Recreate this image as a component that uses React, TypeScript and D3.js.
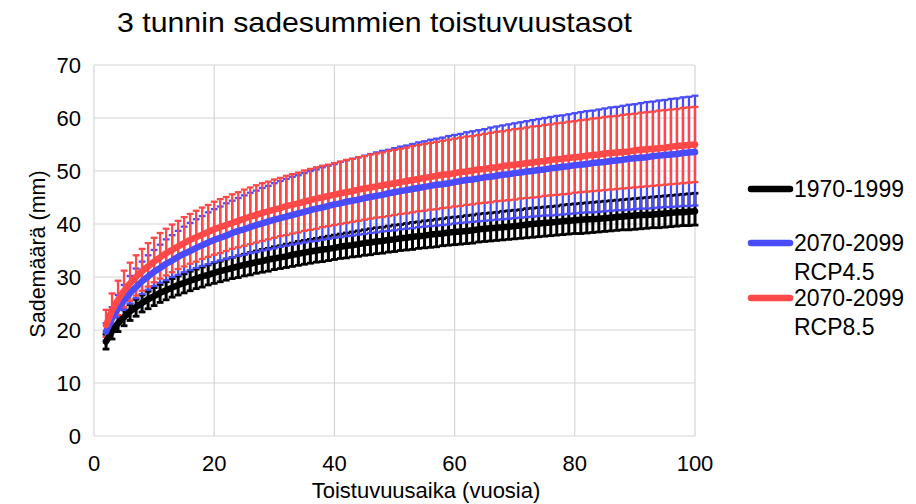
import React from "react";
import * as d3 from "d3";

// Return periods (years)
const returnPeriods: number[] = d3.range(2, 101);

// 1970-1999
const blackMean = [
  17.8,19.8,21.3,22.4,23.5,24.3,25.1,25.8,26.4,27.0,27.5,28.0,28.5,28.9,29.3,29.7,30.1,30.4,30.8,31.1,
  31.4,31.7,32.0,32.3,32.5,32.8,33.0,33.3,33.5,33.7,33.9,34.2,34.4,34.6,34.8,35.0,35.2,35.3,35.5,35.7,
  35.9,36.0,36.2,36.4,36.5,36.7,36.8,37.0,37.1,37.3,37.4,37.6,37.7,37.8,38.0,38.1,38.2,38.4,38.5,38.6,
  38.7,38.8,39.0,39.1,39.2,39.3,39.4,39.5,39.6,39.7,39.9,40.0,40.1,40.2,40.3,40.4,40.5,40.6,40.7,40.8,
  40.9,40.9,41.0,41.1,41.2,41.3,41.4,41.5,41.6,41.7,41.7,41.8,41.9,42.0,42.1,42.2,42.2,42.3,42.4,
];
const blackUpper = [
  19.2,21.1,22.6,23.8,24.8,25.8,26.6,27.3,28.0,28.6,29.1,29.7,30.2,30.6,31.1,31.5,31.9,32.3,32.7,33.0,
  33.4,33.7,34.0,34.3,34.6,34.9,35.2,35.4,35.7,35.9,36.2,36.4,36.7,36.9,37.1,37.3,37.5,37.7,37.9,38.1,
  38.3,38.5,38.7,38.9,39.1,39.3,39.4,39.6,39.8,39.9,40.1,40.3,40.4,40.6,40.7,40.9,41.0,41.2,41.3,41.4,
  41.6,41.7,41.9,42.0,42.1,42.2,42.4,42.5,42.6,42.7,42.9,43.0,43.1,43.2,43.3,43.4,43.6,43.7,43.8,43.9,
  44.0,44.1,44.2,44.3,44.4,44.5,44.6,44.7,44.8,44.9,45.0,45.1,45.2,45.3,45.4,45.5,45.6,45.7,45.8,
];
const blackLower = [
  16.4,18.3,19.7,20.8,21.8,22.6,23.4,24.0,24.6,25.2,25.7,26.2,26.6,27.0,27.4,27.8,28.1,28.5,28.8,29.1,
  29.4,29.7,29.9,30.2,30.4,30.7,30.9,31.1,31.4,31.6,31.8,32.0,32.2,32.4,32.6,32.8,32.9,33.1,33.3,33.5,
  33.6,33.8,33.9,34.1,34.2,34.4,34.5,34.7,34.8,35.0,35.1,35.2,35.4,35.5,35.6,35.7,35.9,36.0,36.1,36.2,
  36.3,36.4,36.6,36.7,36.8,36.9,37.0,37.1,37.2,37.3,37.4,37.5,37.6,37.7,37.8,37.9,38.0,38.1,38.2,38.2,
  38.3,38.4,38.5,38.6,38.7,38.8,38.9,38.9,39.0,39.1,39.2,39.3,39.3,39.4,39.5,39.6,39.7,39.7,39.8,
];

// 2070-2099 RCP4.5
const blueMean = [
  19.7,22.2,24.1,25.6,27.0,28.1,29.2,30.1,31.0,31.7,32.5,33.1,33.8,34.4,34.9,35.5,36.0,36.5,37.0,37.4,
  37.8,38.3,38.7,39.0,39.4,39.8,40.1,40.5,40.8,41.1,41.4,41.7,42.0,42.3,42.6,42.9,43.1,43.4,43.7,43.9,
  44.2,44.4,44.6,44.9,45.1,45.3,45.5,45.8,46.0,46.2,46.4,46.6,46.8,47.0,47.2,47.4,47.5,47.7,47.9,48.1,
  48.3,48.4,48.6,48.8,48.9,49.1,49.3,49.4,49.6,49.7,49.9,50.0,50.2,50.3,50.5,50.6,50.8,50.9,51.1,51.2,
  51.3,51.5,51.6,51.7,51.9,52.0,52.1,52.3,52.4,52.5,52.6,52.8,52.9,53.0,53.1,53.2,53.4,53.5,53.6,
];
const blueUpper = [
  21.3,24.3,26.6,28.5,30.2,31.6,32.9,34.1,35.1,36.1,37.1,37.9,38.7,39.5,40.2,40.9,41.5,42.2,42.8,43.3,
  43.9,44.4,44.9,45.4,45.9,46.3,46.8,47.2,47.7,48.1,48.5,48.9,49.2,49.6,50.0,50.3,50.7,51.0,51.3,51.7,
  52.0,52.3,52.6,52.9,53.2,53.5,53.8,54.0,54.3,54.6,54.8,55.1,55.4,55.6,55.9,56.1,56.3,56.6,56.8,57.0,
  57.3,57.5,57.7,57.9,58.2,58.4,58.6,58.8,59.0,59.2,59.4,59.6,59.8,60.0,60.2,60.4,60.5,60.7,60.9,61.1,
  61.3,61.4,61.6,61.8,62.0,62.1,62.3,62.5,62.6,62.8,63.0,63.1,63.3,63.4,63.6,63.7,63.9,64.0,64.2,
];
const blueLower = [
  18.0,20.6,22.4,23.8,25.0,26.0,26.8,27.6,28.3,28.9,29.4,30.0,30.4,30.9,31.3,31.7,32.1,32.4,32.8,33.1,
  33.4,33.7,34.0,34.2,34.5,34.7,35.0,35.2,35.4,35.7,35.9,36.1,36.3,36.5,36.7,36.8,37.0,37.2,37.4,37.5,
  37.7,37.8,38.0,38.1,38.3,38.4,38.6,38.7,38.8,39.0,39.1,39.2,39.4,39.5,39.6,39.7,39.8,39.9,40.1,40.2,
  40.3,40.4,40.5,40.6,40.7,40.8,40.9,41.0,41.1,41.2,41.3,41.4,41.5,41.6,41.6,41.7,41.8,41.9,42.0,42.1,
  42.2,42.2,42.3,42.4,42.5,42.6,42.6,42.7,42.8,42.9,42.9,43.0,43.1,43.2,43.2,43.3,43.4,43.4,43.5,
];

// 2070-2099 RCP8.5
const redMean = [
  20.9,23.7,25.7,27.4,28.8,30.0,31.1,32.0,32.9,33.7,34.5,35.1,35.8,36.4,37.0,37.5,38.0,38.5,39.0,39.4,
  39.8,40.2,40.6,41.0,41.4,41.7,42.1,42.4,42.7,43.0,43.4,43.6,43.9,44.2,44.5,44.8,45.0,45.3,45.5,45.8,
  46.0,46.2,46.5,46.7,46.9,47.1,47.3,47.5,47.7,47.9,48.1,48.3,48.5,48.7,48.9,49.1,49.3,49.4,49.6,49.8,
  49.9,50.1,50.3,50.4,50.6,50.7,50.9,51.1,51.2,51.3,51.5,51.6,51.8,51.9,52.1,52.2,52.3,52.5,52.6,52.7,
  52.9,53.0,53.1,53.3,53.4,53.5,53.6,53.7,53.9,54.0,54.1,54.2,54.3,54.4,54.6,54.7,54.8,54.9,55.0,
];
const redUpper = [
  23.8,26.9,29.3,31.2,32.7,34.1,35.3,36.4,37.4,38.3,39.1,39.9,40.6,41.3,41.9,42.5,43.1,43.6,44.2,44.7,
  45.1,45.6,46.0,46.5,46.9,47.3,47.7,48.0,48.4,48.7,49.1,49.4,49.7,50.1,50.4,50.7,51.0,51.2,51.5,51.8,
  52.1,52.3,52.6,52.8,53.1,53.3,53.5,53.8,54.0,54.2,54.4,54.7,54.9,55.1,55.3,55.5,55.7,55.9,56.1,56.3,
  56.5,56.6,56.8,57.0,57.2,57.4,57.5,57.7,57.9,58.0,58.2,58.4,58.5,58.7,58.8,59.0,59.1,59.3,59.4,59.6,
  59.7,59.9,60.0,60.2,60.3,60.4,60.6,60.7,60.8,61.0,61.1,61.2,61.4,61.5,61.6,61.7,61.9,62.0,62.1,
];
const redLower = [
  18.7,21.1,22.8,24.3,25.5,26.5,27.4,28.2,29.0,29.7,30.3,30.9,31.5,32.0,32.5,32.9,33.4,33.8,34.2,34.5,
  34.9,35.3,35.6,35.9,36.2,36.5,36.8,37.1,37.4,37.7,37.9,38.2,38.4,38.7,38.9,39.1,39.4,39.6,39.8,40.0,
  40.2,40.4,40.6,40.8,41.0,41.2,41.3,41.5,41.7,41.9,42.0,42.2,42.4,42.5,42.7,42.8,43.0,43.1,43.3,43.4,
  43.6,43.7,43.9,44.0,44.1,44.3,44.4,44.5,44.6,44.8,44.9,45.0,45.1,45.3,45.4,45.5,45.6,45.7,45.9,46.0,
  46.1,46.2,46.3,46.4,46.5,46.6,46.7,46.8,46.9,47.0,47.1,47.2,47.3,47.4,47.5,47.6,47.7,47.8,47.9,
];

const yTicks = [0, 10, 20, 30, 40, 50, 60, 70];
const xTicks = [0, 20, 40, 60, 80, 100];
const seriesNames = ["1970-1999", "2070-2099|RCP4.5", "2070-2099|RCP8.5"];

const title = "3 tunnin sadesummien toistuvuustasot";
const xTitle = "Toistuvuusaika (vuosia)";
const yTitle = "Sademäärä (mm)";

const FONT = "'Liberation Sans', Arial, sans-serif";
const COLORS = ["#000000", "#4a4aff", "#ff4848"];

export default function App() {
  const x = d3.scaleLinear().domain([0, 100]).range([94, 695]);
  const y = d3.scaleLinear().domain([0, 70]).range([436, 65]);

  const series = [
    { mean: blackMean, lo: blackLower, hi: blackUpper, bw: 3, cw: 2.8 },
    { mean: blueMean, lo: blueLower, hi: blueUpper, bw: 2.3, cw: 2.3 },
    { mean: redMean, lo: redLower, hi: redUpper, bw: 2.3, cw: 2.3 },
  ];

  const line = d3
    .line<number>()
    .x((_, i) => x(returnPeriods[i]))
    .y((d) => y(d));

  const capHalf = 3.4;
  const grid = "#d6d6d6";

  return (
    <svg
      width={916}
      height={504}
      style={{ position: "absolute", left: 0, top: 0, background: "#fff" }}
    >
      <text x={117} y={32} fontFamily={FONT} fontSize={28} textLength={515} lengthAdjust="spacingAndGlyphs" fill="#000">
        {title}
      </text>

      {/* grid */}
      {yTicks.map((t) => (
        <line key={"gy" + t} x1={x(0)} x2={x(100)} y1={y(t)} y2={y(t)} stroke={grid} strokeWidth={1.2} />
      ))}
      {xTicks.map((t) => (
        <line key={"gx" + t} x1={x(t)} x2={x(t)} y1={y(0)} y2={y(70)} stroke={grid} strokeWidth={1.2} />
      ))}

      {/* tick labels */}
      {yTicks.map((t) => (
        <text key={"ty" + t} x={81} y={y(t)} dy="0.36em" textAnchor="end" fontFamily={FONT} fontSize={22} fill="#000">
          {t}
        </text>
      ))}
      {xTicks.map((t) => (
        <text key={"tx" + t} x={x(t)} y={471} textAnchor="middle" fontFamily={FONT} fontSize={22} fill="#000">
          {t}
        </text>
      ))}

      <text x={426} y={498} textAnchor="middle" fontFamily={FONT} fontSize={22} fill="#000">
        {xTitle}
      </text>
      <text
        transform={`translate(45,254) rotate(-90)`}
        textAnchor="middle"
        fontFamily={FONT}
        fontSize={21.5}
        fill="#000"
      >
        {yTitle}
      </text>

      {/* error bars */}
      {series.map((s, si) => (
        <g key={"eb" + si} stroke={COLORS[si]}>
          {returnPeriods.map((t, i) => {
            const cx = x(t);
            return (
              <g key={i}>
                <line x1={cx} x2={cx} y1={y(s.lo[i])} y2={y(s.hi[i])} strokeWidth={s.bw} />
                <line x1={cx - capHalf} x2={cx + capHalf} y1={y(s.lo[i])} y2={y(s.lo[i])} strokeWidth={s.cw} />
                <line x1={cx - capHalf} x2={cx + capHalf} y1={y(s.hi[i])} y2={y(s.hi[i])} strokeWidth={s.cw} />
              </g>
            );
          })}
        </g>
      ))}

      {/* mean lines */}
      {series.map((s, si) => (
        <path
          key={"ml" + si}
          d={line(s.mean) || ""}
          fill="none"
          stroke={COLORS[si]}
          strokeWidth={6.5}
          strokeLinejoin="round"
          strokeLinecap="round"
        />
      ))}

      {/* legend */}
      {seriesNames.map((n, i) => {
        const ly = [189, 243, 298][i];
        const parts = n.split("|");
        return (
          <g key={"lg" + i}>
            <line x1={751} x2={790} y1={ly} y2={ly} stroke={COLORS[i]} strokeWidth={6.5} strokeLinecap="round" />
            {parts.map((p, j) => (
              <text key={j} x={794} y={ly + 8 + j * 29} fontFamily={FONT} fontSize={23} fill="#000">
                {p}
              </text>
            ))}
          </g>
        );
      })}
    </svg>
  );
}
